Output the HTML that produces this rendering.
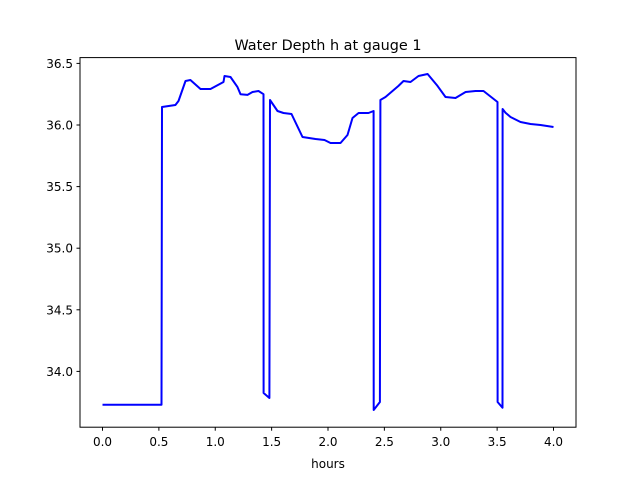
<!DOCTYPE html>
<html><head><meta charset="utf-8"><style>
body{margin:0;background:#fff}
svg text{font-family:"DejaVu Sans","Liberation Sans",sans-serif;fill:#000}
</style></head><body>
<svg width="640" height="480" xmlns="http://www.w3.org/2000/svg">
<rect width="640" height="480" fill="#fff"/>
<text x="328" y="50" font-size="14.4" text-anchor="middle">Water Depth h at gauge 1</text>
<g id="plot"></g>
<rect x="80" y="57.6" width="496" height="369.6" fill="none" stroke="#000" stroke-width="1"/>
<g id="xt"></g><g id="yt"></g>
<text x="328" y="468" font-size="12" text-anchor="middle">hours</text>
</svg>
<script>
const times=[0,0.523,0.528,0.647,0.674,0.736,0.780,0.869,0.958,1.073,1.082,1.135,1.197,1.224,1.286,1.330,1.384,1.428,1.429,1.480,1.486,1.552,1.605,1.676,1.774,1.889,1.969,2.022,2.111,2.173,2.217,2.271,2.359,2.404,2.405,2.460,2.465,2.510,2.625,2.670,2.732,2.803,2.883,2.971,3.042,3.131,3.220,3.308,3.379,3.503,3.504,3.548,3.549,3.574,3.619,3.707,3.796,3.885,4.0];
const depths=[33.73,33.73,36.146,36.162,36.195,36.357,36.365,36.292,36.292,36.349,36.398,36.39,36.308,36.25,36.244,36.268,36.276,36.25,33.825,33.784,36.203,36.114,36.097,36.089,35.903,35.886,35.878,35.854,35.854,35.919,36.057,36.097,36.097,36.114,33.687,33.752,36.203,36.227,36.317,36.357,36.349,36.398,36.414,36.317,36.227,36.219,36.268,36.276,36.276,36.187,33.752,33.705,36.13,36.1,36.065,36.024,36.008,36.0,35.984];
const xTicks=[0,0.5,1,1.5,2,2.5,3,3.5,4];
const yTicks=[34.0,34.5,35.0,35.5,36.0,36.5];
const X=t=>102.5+112.75*t, Y=v=>125-123.2*(v-36);
const ns="http://www.w3.org/2000/svg";
const plot=document.getElementById('plot');
const p=document.createElementNS(ns,'path');
p.setAttribute('d',times.map((t,i)=>(i?'L':'M')+X(t).toFixed(1)+','+Y(depths[i]).toFixed(1)).join(''));
p.setAttribute('fill','none');p.setAttribute('stroke','#0000ff');p.setAttribute('stroke-width','2');p.setAttribute('stroke-linejoin','round');


plot.appendChild(p);
const xt=document.getElementById('xt');
xTicks.forEach(t=>{
 const l=document.createElementNS(ns,'line');
 l.setAttribute('x1',X(t));l.setAttribute('x2',X(t));l.setAttribute('y1',427.2);l.setAttribute('y2',430.7);l.setAttribute('stroke','#000');
 
 
 xt.appendChild(l);
 const s=document.createElementNS(ns,'text');
 s.setAttribute('x',X(t));s.setAttribute('y',446);s.setAttribute('font-size','12');s.setAttribute('text-anchor','middle');
 s.textContent=t.toFixed(1);
 
 
 xt.appendChild(s);
});
const yt=document.getElementById('yt');
yTicks.forEach(v=>{
 const l=document.createElementNS(ns,'line');
 l.setAttribute('x1',76.5);l.setAttribute('x2',80);l.setAttribute('y1',Y(v));l.setAttribute('y2',Y(v));l.setAttribute('stroke','#000');
 
 
 yt.appendChild(l);
 const s=document.createElementNS(ns,'text');
 s.setAttribute('x',73);s.setAttribute('y',Y(v)+4.5);s.setAttribute('font-size','12');s.setAttribute('text-anchor','end');
 s.textContent=v.toFixed(1);
 
 
 yt.appendChild(s);
});
</script>
</body></html>
